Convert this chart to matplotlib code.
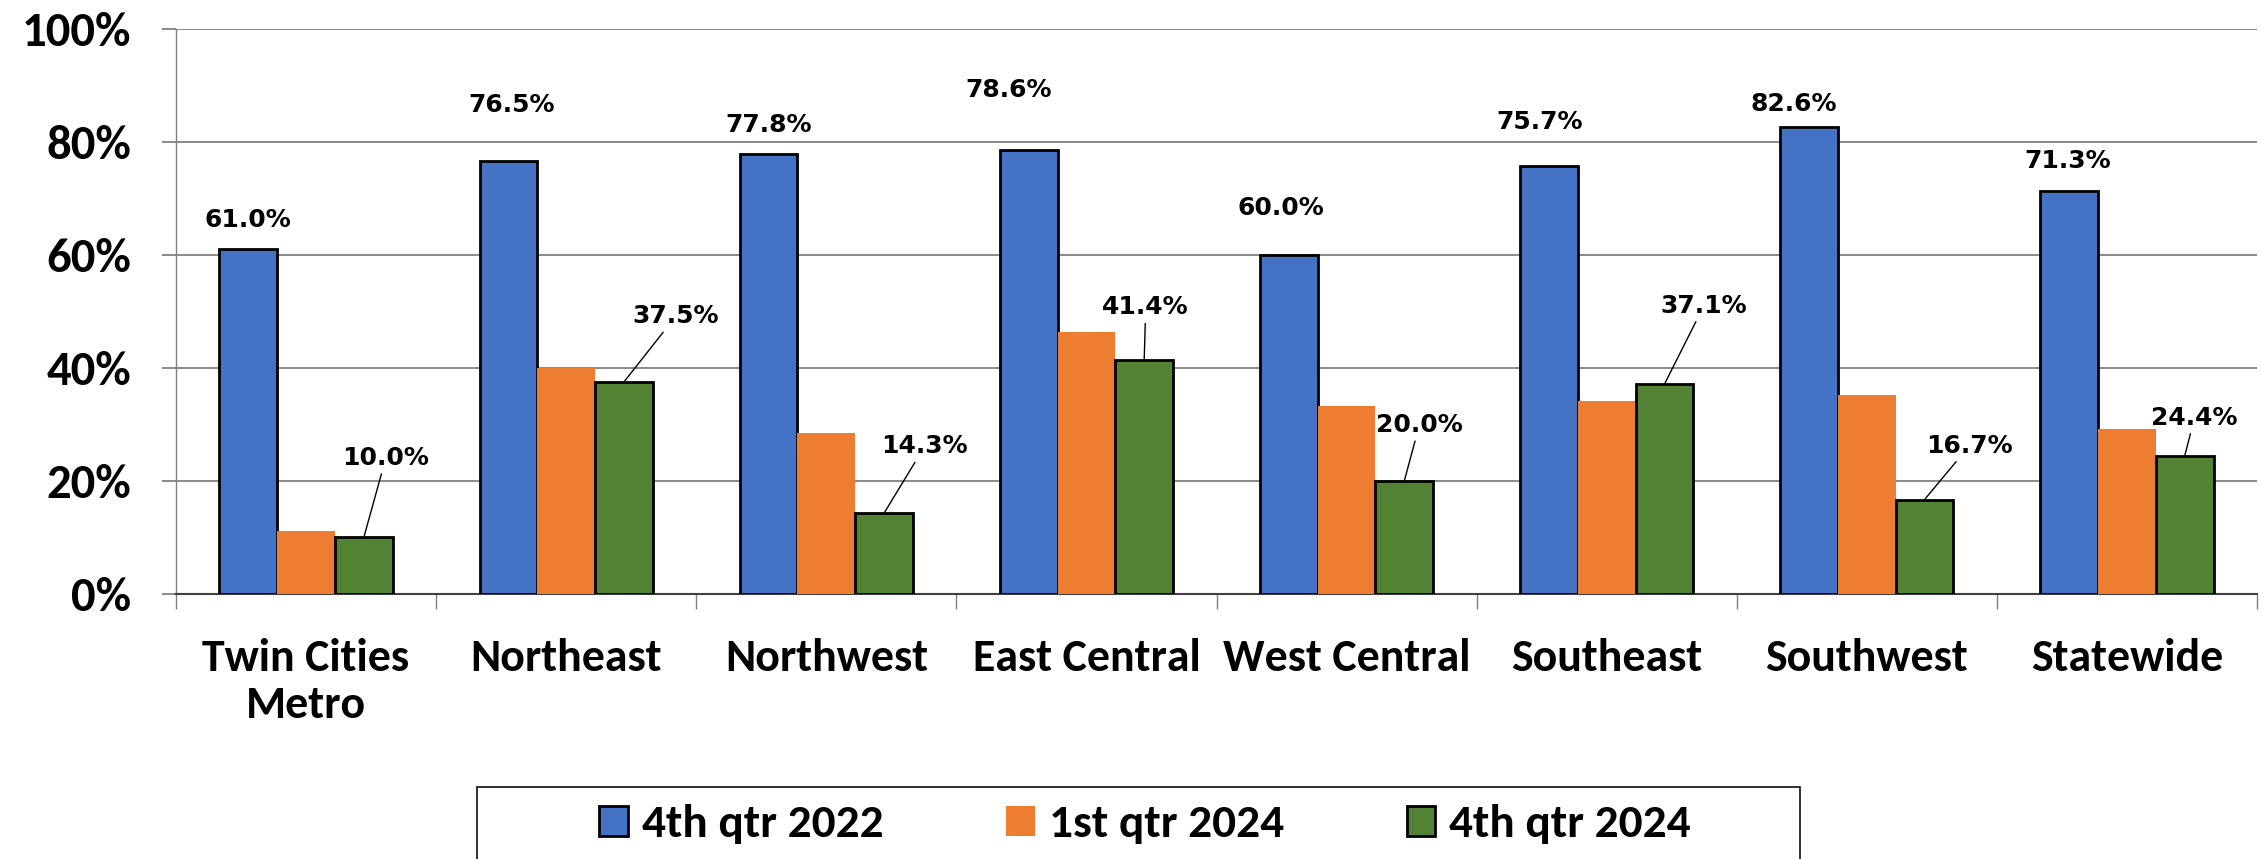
import matplotlib
matplotlib.use("Agg")
import matplotlib.pyplot as plt
from matplotlib import font_manager
from matplotlib.patches import Rectangle
import numpy as np

# ---------------- data ----------------
categories = ['Twin Cities\nMetro', 'Northeast', 'Northwest', 'East Central',
              'West Central', 'Southeast', 'Southwest', 'Statewide']
series_names = ['4th qtr 2022', '1st qtr 2024', '4th qtr 2024']
q4_2022 = [61.0, 76.5, 77.8, 78.6, 60.0, 75.7, 82.6, 71.3]
q1_2024 = [11.2, 40.0, 28.5, 46.3, 33.3, 34.2, 35.2, 29.2]
q4_2024 = [10.0, 37.5, 14.3, 41.4, 20.0, 37.1, 16.7, 24.4]
y_ticks = [0, 20, 40, 60, 80, 100]

# ---------------- layout / style ----------------
colors = ['#4472C4', '#ED7D31', '#548235']
edge_colors = ['black', 'none', 'black']
bar_w = 0.222
# label placement (offsets relative to bar / category)
blue_lab_dx = [-0.224, -0.211, -0.223, -0.30, -0.254, -0.257, -0.28, -0.226]
blue_lab_dy = [5.2, 10.0, 5.1, 10.5, 8.2, 7.8, 4.1, 5.3]
green_lab_dx = [0.307, 0.421, 0.378, 0.228, 0.28, 0.374, 0.394, 0.26]
green_lab_dy = [14.1, 11.6, 11.8, 9.3, 9.9, 13.9, 9.5, 6.8]

available = {f.name for f in font_manager.fontManager.ttflist}
main_fonts = [f for f in ['Carlito', 'Lato', 'DejaVu Sans'] if f in available]
plt.rcParams['font.family'] = main_fonts

W, H = 2262, 859
fig = plt.figure(figsize=(W / 100, H / 100), dpi=100)
ax = fig.add_axes([176 / W, 1 - 594 / H, (2257 - 176) / W, (594 - 28.5) / H])

x = np.arange(len(categories))
bars = []
for k, (vals, c, ec) in enumerate(zip([q4_2022, q1_2024, q4_2024], colors, edge_colors)):
    b = ax.bar(x + (k - 1) * bar_w, vals, width=bar_w, color=c, edgecolor=ec,
               linewidth=2.0 if ec != 'none' else 0, label=series_names[k], zorder=3)
    bars.append(b)

ax.set_xlim(-0.5, len(categories) - 0.5)
ax.set_ylim(0, 100)
ax.set_yticks(y_ticks)
ax.set_yticklabels([f'{v}%' for v in y_ticks])
ax.yaxis.grid(True, color='#808080', linewidth=1.3, zorder=0)
ax.set_axisbelow(True)

ax.set_xticks(x)
ax.set_xticklabels(categories, fontsize=33, fontweight='bold', linespacing=1.2)
ax.set_xticks(np.arange(-0.5, len(categories), 1.0), minor=True)
ax.tick_params(axis='x', which='major', length=0, pad=32)
ax.tick_params(axis='x', which='minor', length=11, width=1.0, color='#808080', direction='out')
ax.tick_params(axis='y', length=10, width=1.3, color='#808080', direction='out', pad=22,
               labelsize=35)
for lab in ax.get_yticklabels():
    lab.set_fontweight('bold')

for s in ['top', 'right']:
    ax.spines[s].set_visible(False)
ax.spines['left'].set_color('#808080')
ax.spines['left'].set_linewidth(1.0)
ax.spines['bottom'].set_color('#404040')
ax.spines['bottom'].set_linewidth(1.5)

lab_font = dict(fontsize=18, fontweight='bold', family=['DejaVu Sans'])
for i, v in enumerate(q4_2022):
    ax.text(i + blue_lab_dx[i], v + blue_lab_dy[i], f'{v:.1f}%',
            ha='center', va='center', zorder=5, **lab_font)
for i, v in enumerate(q4_2024):
    ax.annotate(f'{v:.1f}%', xy=(i + bar_w, v), xytext=(i + green_lab_dx[i], v + green_lab_dy[i]),
                ha='center', va='center', zorder=5,
                arrowprops=dict(arrowstyle='-', color='black', lw=1.0, shrinkA=1, shrinkB=0),
                **lab_font)

# legend frame (cut off at the bottom like the reference)
fig.patches.append(Rectangle((477 / W, -0.05), (1800 - 477) / W, 0.05 + (H - 787) / H,
                             transform=fig.transFigure, fill=False, edgecolor='#202020',
                             linewidth=1.3, zorder=1))
leg = fig.legend(handles=bars, labels=series_names, loc='center',
                 bbox_to_anchor=(1145 / W, 1 - 824.5 / H), ncol=3, frameon=False,
                 prop={'weight': 'bold', 'size': 34},
                 handlelength=0.6, handleheight=0.6, handletextpad=0.3,
                 columnspacing=2.6)

fig.savefig('out.png', dpi=100)
